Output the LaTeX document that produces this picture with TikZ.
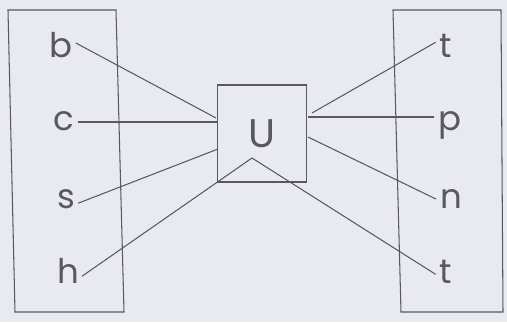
\documentclass[tikz,border=0pt]{standalone}
\usepackage{fontspec}
\newfontfamily\labfont{Poppins}
\definecolor{bg}{RGB}{233,234,241}
\definecolor{ink}{RGB}{88,88,94}
\tikzset{
  lab/.style={inner sep=0pt, text=ink, font=\labfont\fontsize{34}{34}\selectfont},
  wire/.style={draw=ink, line width=1.05pt},
  frame/.style={draw=ink, line width=1.05pt},
}
\begin{document}
\begin{tikzpicture}[x=1pt,y=-1pt]
\fill[bg] (0,0) rectangle (507,322);
\useasboundingbox (0,0) rectangle (507,322);
% group frames
\draw[frame] (8,10) -- (116,10) -- (124,312) -- (15,312) -- cycle;
\draw[frame] (393,10) -- (501,10) -- (503,312) -- (401,312) -- cycle;
% central box
\node[frame, minimum width=89pt, minimum height=97pt, inner sep=0pt,
      text=ink, font=\labfont\fontsize{40}{40}\selectfont] (ubox) at (262,133.5) {U};
% labels
\node[lab] (b) at (61,45) {b};
\node[lab] (c) at (64,121) {c};
\node[lab] (s) at (66,199) {s};
\node[lab] (h) at (68,271) {h};
\node[lab] (t1) at (446,46) {t};
\node[lab] (p) at (450,125) {p};
\node[lab] (n) at (451,199) {n};
\node[lab] (t2) at (446,272) {t};
% connector ends at the central box
\coordinate (eb) at (216,118);
\coordinate (ec) at (218,122);
\coordinate (es) at (218,149);
\coordinate (eh) at (252,158);
\coordinate (et) at (312,113);
\coordinate (ep) at (308,117);
\coordinate (en) at (308,137);
% connectors
\draw[wire] ([xshift=3pt]b.10) -- (eb);
\draw[wire] ([xshift=3pt]c.east |- ec) -- (ec);
\draw[wire] ([xshift=3pt]s.-25) -- (es);
\draw[wire] ([xshift=3pt]h.-25) -- (eh);
\draw[wire] (eh) -- ([xshift=-4pt]t2.-160);
\draw[wire] (et) -- ([xshift=-4pt]t1.150);
\draw[wire] (ep) -- ([xshift=-4pt]p.west |- ep);
\draw[wire] (en) -- ([xshift=-4pt]n.west);
\end{tikzpicture}
\end{document}
